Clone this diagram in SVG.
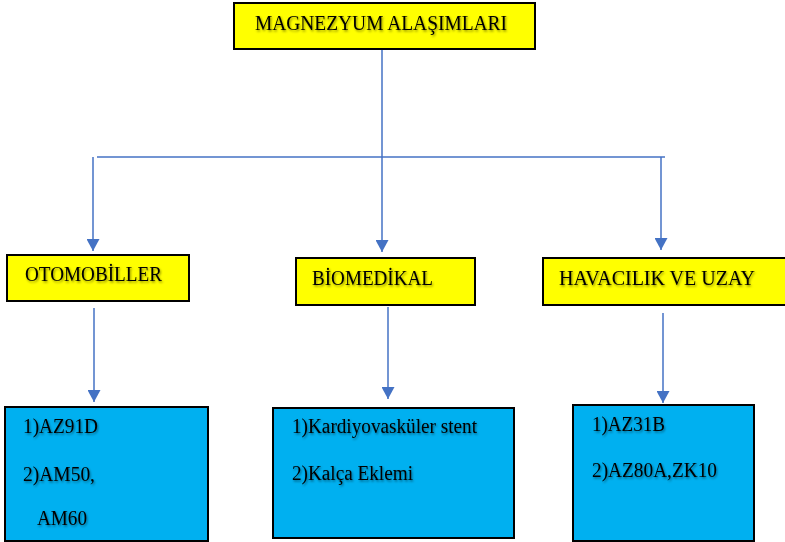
<svg xmlns="http://www.w3.org/2000/svg" width="785" height="542" viewBox="0 0 785 542">
  <style>
    .yel { fill: #FFFF00; stroke: #000; stroke-width: 2; }
    .cyan { fill: #00B0F0; stroke: #000; stroke-width: 2; }
    .t { font-family: "Liberation Serif", "Times New Roman", serif; font-size: 20px; fill: #000; filter: url(#sh); }
    .conn { stroke: #4472C4; stroke-width: 1.5; fill: none; }
  </style>
  <defs>
    <filter id="sh" x="-10%" y="-30%" width="120%" height="170%">
      <feDropShadow dx="1" dy="1.5" stdDeviation="1.2" flood-color="#000" flood-opacity="0.45"/>
    </filter>
    <marker id="arr" markerUnits="userSpaceOnUse" markerWidth="14" markerHeight="13" refX="12" refY="6.5" orient="auto">
      <path d="M0,0 L12,6.5 L0,13 z" fill="#4472C4"/>
    </marker>
  </defs>
  <rect width="785" height="542" fill="#FFFFFF"/>

  <g id="connectors">
    <path class="conn" d="M382,50 V252" marker-end="url(#arr)"/>
    <path class="conn" d="M97,157 H665"/>
    <path class="conn" d="M93,157 V251" marker-end="url(#arr)"/>
    <path class="conn" d="M661,157 V250" marker-end="url(#arr)"/>
    <path class="conn" d="M94,308 V402" marker-end="url(#arr)"/>
    <path class="conn" d="M388,307 V399" marker-end="url(#arr)"/>
    <path class="conn" d="M663,313 V403" marker-end="url(#arr)"/>
  </g>

  <g id="magnezyum">
    <rect class="yel" x="234" y="3" width="301" height="46"/>
    <text class="t" x="255" y="30" font-size="21" textLength="252" lengthAdjust="spacingAndGlyphs">MAGNEZYUM ALAŞIMLARI</text>
  </g>

  <g id="otomobiller">
    <rect class="yel" x="7" y="255" width="182" height="46"/>
    <text class="t" x="25" y="281" textLength="137" lengthAdjust="spacingAndGlyphs">OTOMOBİLLER</text>
  </g>

  <g id="biomedikal">
    <rect class="yel" x="296" y="258" width="179" height="47"/>
    <text class="t" x="312" y="285" textLength="121" lengthAdjust="spacingAndGlyphs">BİOMEDİKAL</text>
  </g>

  <g id="havacilik">
    <rect class="yel" x="543" y="258" width="250" height="47"/>
    <text class="t" x="559" y="285" textLength="196" lengthAdjust="spacingAndGlyphs">HAVACILIK VE UZAY</text>
  </g>

  <g id="oto-list">
    <rect class="cyan" x="5" y="407" width="203" height="134"/>
    <text class="t" x="23" y="433" textLength="75" lengthAdjust="spacingAndGlyphs">1)AZ91D</text>
    <text class="t" x="23" y="481" textLength="72" lengthAdjust="spacingAndGlyphs">2)AM50,</text>
    <text class="t" x="37" y="525" textLength="50" lengthAdjust="spacingAndGlyphs">AM60</text>
  </g>

  <g id="bio-list">
    <rect class="cyan" x="273" y="408" width="241" height="130"/>
    <text class="t" x="292" y="433" textLength="185" lengthAdjust="spacingAndGlyphs">1)Kardiyovasküler stent</text>
    <text class="t" x="292" y="480" textLength="121" lengthAdjust="spacingAndGlyphs">2)Kalça Eklemi</text>
  </g>

  <g id="hava-list">
    <rect class="cyan" x="573" y="405" width="181" height="136"/>
    <text class="t" x="592" y="431" textLength="73" lengthAdjust="spacingAndGlyphs">1)AZ31B</text>
    <text class="t" x="592" y="477" textLength="125" lengthAdjust="spacingAndGlyphs">2)AZ80A,ZK10</text>
  </g>
</svg>
